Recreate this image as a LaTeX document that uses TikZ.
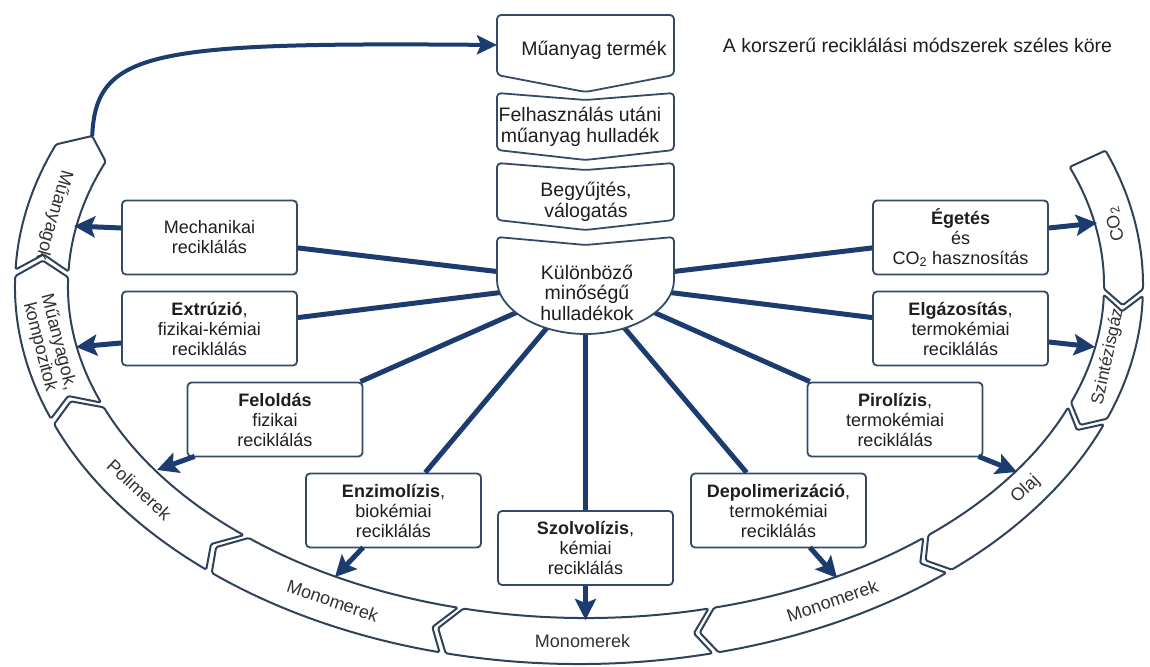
\documentclass[tikz,border=0pt]{standalone}
\usepackage{fontspec}
\setmainfont{Liberation Sans}
\usetikzlibrary{arrows.meta,calc}
\definecolor{bordc}{RGB}{52,74,102}
\definecolor{ringc}{RGB}{48,66,90}
\definecolor{arrc}{RGB}{28,60,112}
\definecolor{txtc}{RGB}{30,30,30}
\definecolor{txtg}{RGB}{50,50,50}
% ring segment: #1 start angle, #2 end angle, #3 tail notch depth, #4 head point depth
\newcommand\rseg[4]{%
  \draw[ringseg] ([xshift=-7pt]#1:564pt and 378pt)
   arc[start angle=#1,end angle=#2,x radius=564pt,y radius=378pt]
   -- ([xshift=-3.5pt]{#2-#4}:541pt and 355pt) -- (#2:518pt and 332pt)
   arc[start angle=#2,end angle=#1,x radius=518pt,y radius=332pt]
   -- ([xshift=-3.5pt]{#1-#3}:541pt and 355pt) -- cycle;}
\begin{document}
\begin{tikzpicture}[x=1pt,y=1pt,
  ringseg/.style={draw=ringc,line width=2pt,fill=white,rounded corners=1.5pt,line join=round},
  ringlabel/.style={text=txtg,font=\fontsize{18}{19}\selectfont,align=center,inner sep=0pt},
  box/.style={draw=bordc,line width=1.8pt,rounded corners=4pt,fill=white,minimum width=175pt,
    minimum height=74pt,align=center,text=txtc,font=\fontsize{18}{20}\selectfont,inner sep=0pt},
  cbox/.style={draw=bordc,line width=1.8pt,rounded corners=4pt,fill=white,line join=round},
  ctext/.style={align=center,text=txtc,font=\fontsize{19.5}{20.5}\selectfont,inner sep=0pt},
  spoke/.style={draw=arrc,line width=5pt},
  arr/.style={draw=arrc,line width=5pt,-{Stealth[length=21pt,width=21pt,inset=4pt]}},
  arrc2/.style={draw=arrc,line width=4pt,-{Stealth[length=20pt,width=19pt,inset=4pt]}}
]
\useasboundingbox (0,0) rectangle (1150,666);
\fill[white] (0,0) rectangle (1150,666);

% ---- ring of chevrons ----
\begin{scope}[shift={(586,380)}]
\rseg{21}{-0.5}{0}{2.6}
\rseg{-1.5}{-20.55}{2.6}{2.5}
\rseg{-21.45}{-48.63}{2.5}{2.0}
\rseg{-49.37}{-75.68}{2.0}{1.8}
\rseg{-76.32}{-103.68}{1.8}{1.8}
\rseg{-104.32}{-130.63}{1.8}{2.0}
\rseg{-131.37}{-158.55}{2.0}{2.5}
\rseg{-159.45}{-181.5}{2.5}{2.6}
\rseg{-182.5}{-202}{2.6}{3.0}
\coordinate (mtip) at ([xshift=-3.5pt]-205:541pt and 355pt);
\node[ringlabel,rotate=105] (lco) at ([xshift=-3.5pt]10:541pt and 355pt) {CO\textsubscript{2}};
\node[ringlabel,rotate=78,font=\fontsize{17.5}{19}\selectfont] (lsz) at ([xshift=-8pt]-11.5:541pt and 355pt) {Szintézisgáz};
\node[ringlabel,rotate=43] (lol) at ([xshift=-3.5pt]-35:541pt and 355pt) {Olaj};
\node[ringlabel,rotate=18.8] (lmr) at ([xshift=-3.5pt]-62.5:541pt and 355pt) {Monomerek};
\node[ringlabel] (lmc) at ([xshift=-3.5pt]-90:541pt and 355pt) {Monomerek};
\node[ringlabel,rotate=-18.8] (lml) at ([xshift=-3.5pt]-117.5:541pt and 355pt) {Monomerek};
\node[ringlabel,rotate=-43] (lpo) at ([xshift=-3.5pt]-145:541pt and 355pt) {Polimerek};
\node[ringlabel,rotate=-75.6] (lko) at ([xshift=-3.5pt]-170.5:541pt and 355pt) {Műanyagok,\\kompozitok};
\node[ringlabel,rotate=-106] (lmu) at ([xshift=-2pt]-191.5:541pt and 355pt) {Műanyagok};
\end{scope}

% ---- title ----
\node[text=txtc,font=\fontsize{19.5}{21}\selectfont,inner sep=0pt] (title) at (917.5,621) {A korszerű reciklálási módszerek széles köre};

% ---- process boxes ----
\node[box] (mech) at (209.5,428.5) {Mechanikai\\reciklálás};
\node[box] (extr) at (209.5,337.5) {\textbf{Extrúzió},\\fizikai-kémiai\\reciklálás};
\node[box] (fel) at (275,246.5) {\textbf{Feloldás}\\fizikai\\reciklálás};
\node[box] (enz) at (393.5,155.5) {\textbf{Enzimolízis},\\biokémiai\\reciklálás};
\node[box] (szol) at (585.5,118) {\textbf{Szolvolízis},\\kémiai\\reciklálás};
\node[box] (dep) at (778.5,155.5) {\textbf{Depolimerizáció},\\termokémiai\\reciklálás};
\node[box] (pir) at (895,246.5) {\textbf{Pirolízis},\\termokémiai\\reciklálás};
\node[box] (elg) at (960.5,337.5) {\textbf{Elgázosítás},\\termokémiai\\reciklálás};
\node[box] (eg) at (960.5,428.5) {\textbf{Égetés}\\és\\CO\textsubscript{2} hasznosítás};

% ---- spokes from the hub ----
\coordinate (hub) at (585.5,384);
\foreach \b in {mech,extr,fel,enz,szol,dep,pir,elg,eg}
  \draw[spoke] (hub) -- (\b);

% ---- central column ----
\draw[cbox] (497,651) -- (674,651) -- (674,591) -- (585.5,574) -- (497,591) -- cycle;
\draw[cbox] (497,573) -- (585.5,566) -- (674,573) -- (674,516) -- (585.5,506) -- (497,516) -- cycle;
\draw[cbox] (497,503) -- (585.5,496) -- (674,503) -- (674,446) -- (585.5,436) -- (497,446) -- cycle;
\draw[cbox] (497,429) -- (585.5,421) -- (674,429) -- (674,390)
   arc[start angle=0,end angle=-180,x radius=88.5pt,y radius=58pt] -- cycle;
\node[ctext] (b1) at (594,616) {Műanyag termék};
\node[ctext] (b2) at (580,539) {Felhasználás utáni\\műanyag hulladék};
\node[ctext] (b3) at (586,464) {Begyűjtés,\\válogatás};
\node[ctext] (b4) at (587,373.5) {Különböző\\minőségű\\hulladékok};
\coordinate (b1w) at (497,621);

% ---- output arrows ----
\coordinate (tMech) at (74,440);
\coordinate (tExtr) at (76,319);
\coordinate (tFel) at (157,196);
\coordinate (tEnz) at (335,89);
\coordinate (tSzol) at (585.5,46);
\coordinate (tDep) at (837,88);
\coordinate (tPir) at (1017,194);
\coordinate (tElg) at (1095,319);
\coordinate (tEg) at (1097,443);
\draw[arr] ([yshift=9.5pt]mech.west) -- (tMech);
\draw[arr] ([yshift=-14.5pt]extr.west) -- (tExtr);
\draw[arr] ([xshift=8pt,yshift=1pt]fel.south west) -- (tFel);
\draw[arr] ([xshift=58pt,yshift=1pt]enz.south west) -- (tEnz);
\draw[arr] (szol.south) -- (tSzol);
\draw[arr] ([xshift=-57pt,yshift=1pt]dep.south east) -- (tDep);
\draw[arr] ([xshift=-5pt,yshift=1pt]pir.south east) -- (tPir);
\draw[arr] ([yshift=-13.5pt]elg.east) -- (tElg);
\draw[arr] ([yshift=9.5pt]eg.east) -- (tEg);
\draw[arrc2] (mtip) .. controls (96,615) and (150,624) .. (b1w);
\end{tikzpicture}
\end{document}
